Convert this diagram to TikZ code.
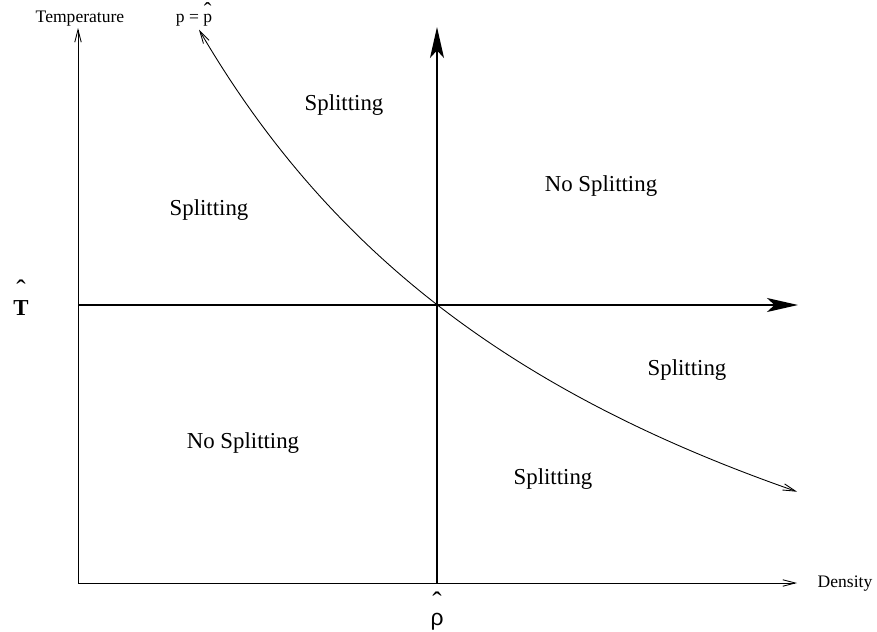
\documentclass[tikz,border=0pt]{standalone}
\usepackage{fontspec}
\setmainfont{Liberation Serif}
\newfontfamily\greekfont{Liberation Sans}
\usetikzlibrary{arrows.meta}
\newcommand{\hatmark}{{\fontsize{16}{16}\selectfont ˆ}}
\tikzset{
    region/.style={font=\fontsize{13}{15}\selectfont},
    axislabel/.style={font=\fontsize{10}{12}\selectfont},
    hatlabel/.style={align=center, inner sep=0pt, font=\fontsize{13}{15}\selectfont},
    mainaxis/.style={
        line width=0.9pt, -{Stealth[length=0.62cm, width=0.28cm, inset=0.15cm]}
    },
    sideaxis/.style={
        line width=0.5pt, -{Straight Barb[length=0.25cm, width=0.13cm]}
    }
}

\begin{document}
\begin{tikzpicture}[x=0.02cm, y=-0.02cm]
\useasboundingbox (0,0) rectangle (877,632);

% axes
\coordinate (origin) at (78,583);
\coordinate (ttop) at (78,28);
\coordinate (dright) at (797,583);
\coordinate (rhobase) at (437,583);
\coordinate (rhotop) at (437,27);
\coordinate (tleft) at (78,305);
\coordinate (tright) at (798,305);

\draw[sideaxis] (origin) -- (ttop);
\draw[sideaxis] (origin) -- (dright);
\draw[mainaxis] (rhobase) -- (rhotop);
\draw[mainaxis] (tleft) -- (tright);

% curve p = p^
\draw[line width=0.5pt, {Straight Barb[length=0.25cm, width=0.13cm]}-{Straight Barb[length=0.25cm, width=0.13cm]}]
    plot[domain=199:797, samples=80] (\x, {869 - 4099.35/((\x+289.4)/100)});

% labels
\node[axislabel] (templabel) at (80,19) {Temperature};
\node[axislabel, anchor=base] (plabel) at (194,23) {p = \shortstack{{\fontsize{13}{13}\selectfont ˆ}\\[-5pt]p}};
\node[axislabel] (denslabel) at (845,584) {Density};
\node[hatlabel] (thatlabel) at (21,298) {\hatmark\\[-6pt]\textbf{T}};
\node[hatlabel] (rhohatlabel) at (437,611) {\hatmark\\[-7pt]{\greekfont ρ}};

% regions
\node[region] (splitA) at (344,105) {Splitting};
\node[region] (nosplitA) at (601,186) {No Splitting};
\node[region] (splitB) at (209,210) {Splitting};
\node[region] (splitC) at (687,370) {Splitting};
\node[region] (nosplitB) at (243,443) {No Splitting};
\node[region] (splitD) at (553,479) {Splitting};

\end{tikzpicture}
\end{document}
